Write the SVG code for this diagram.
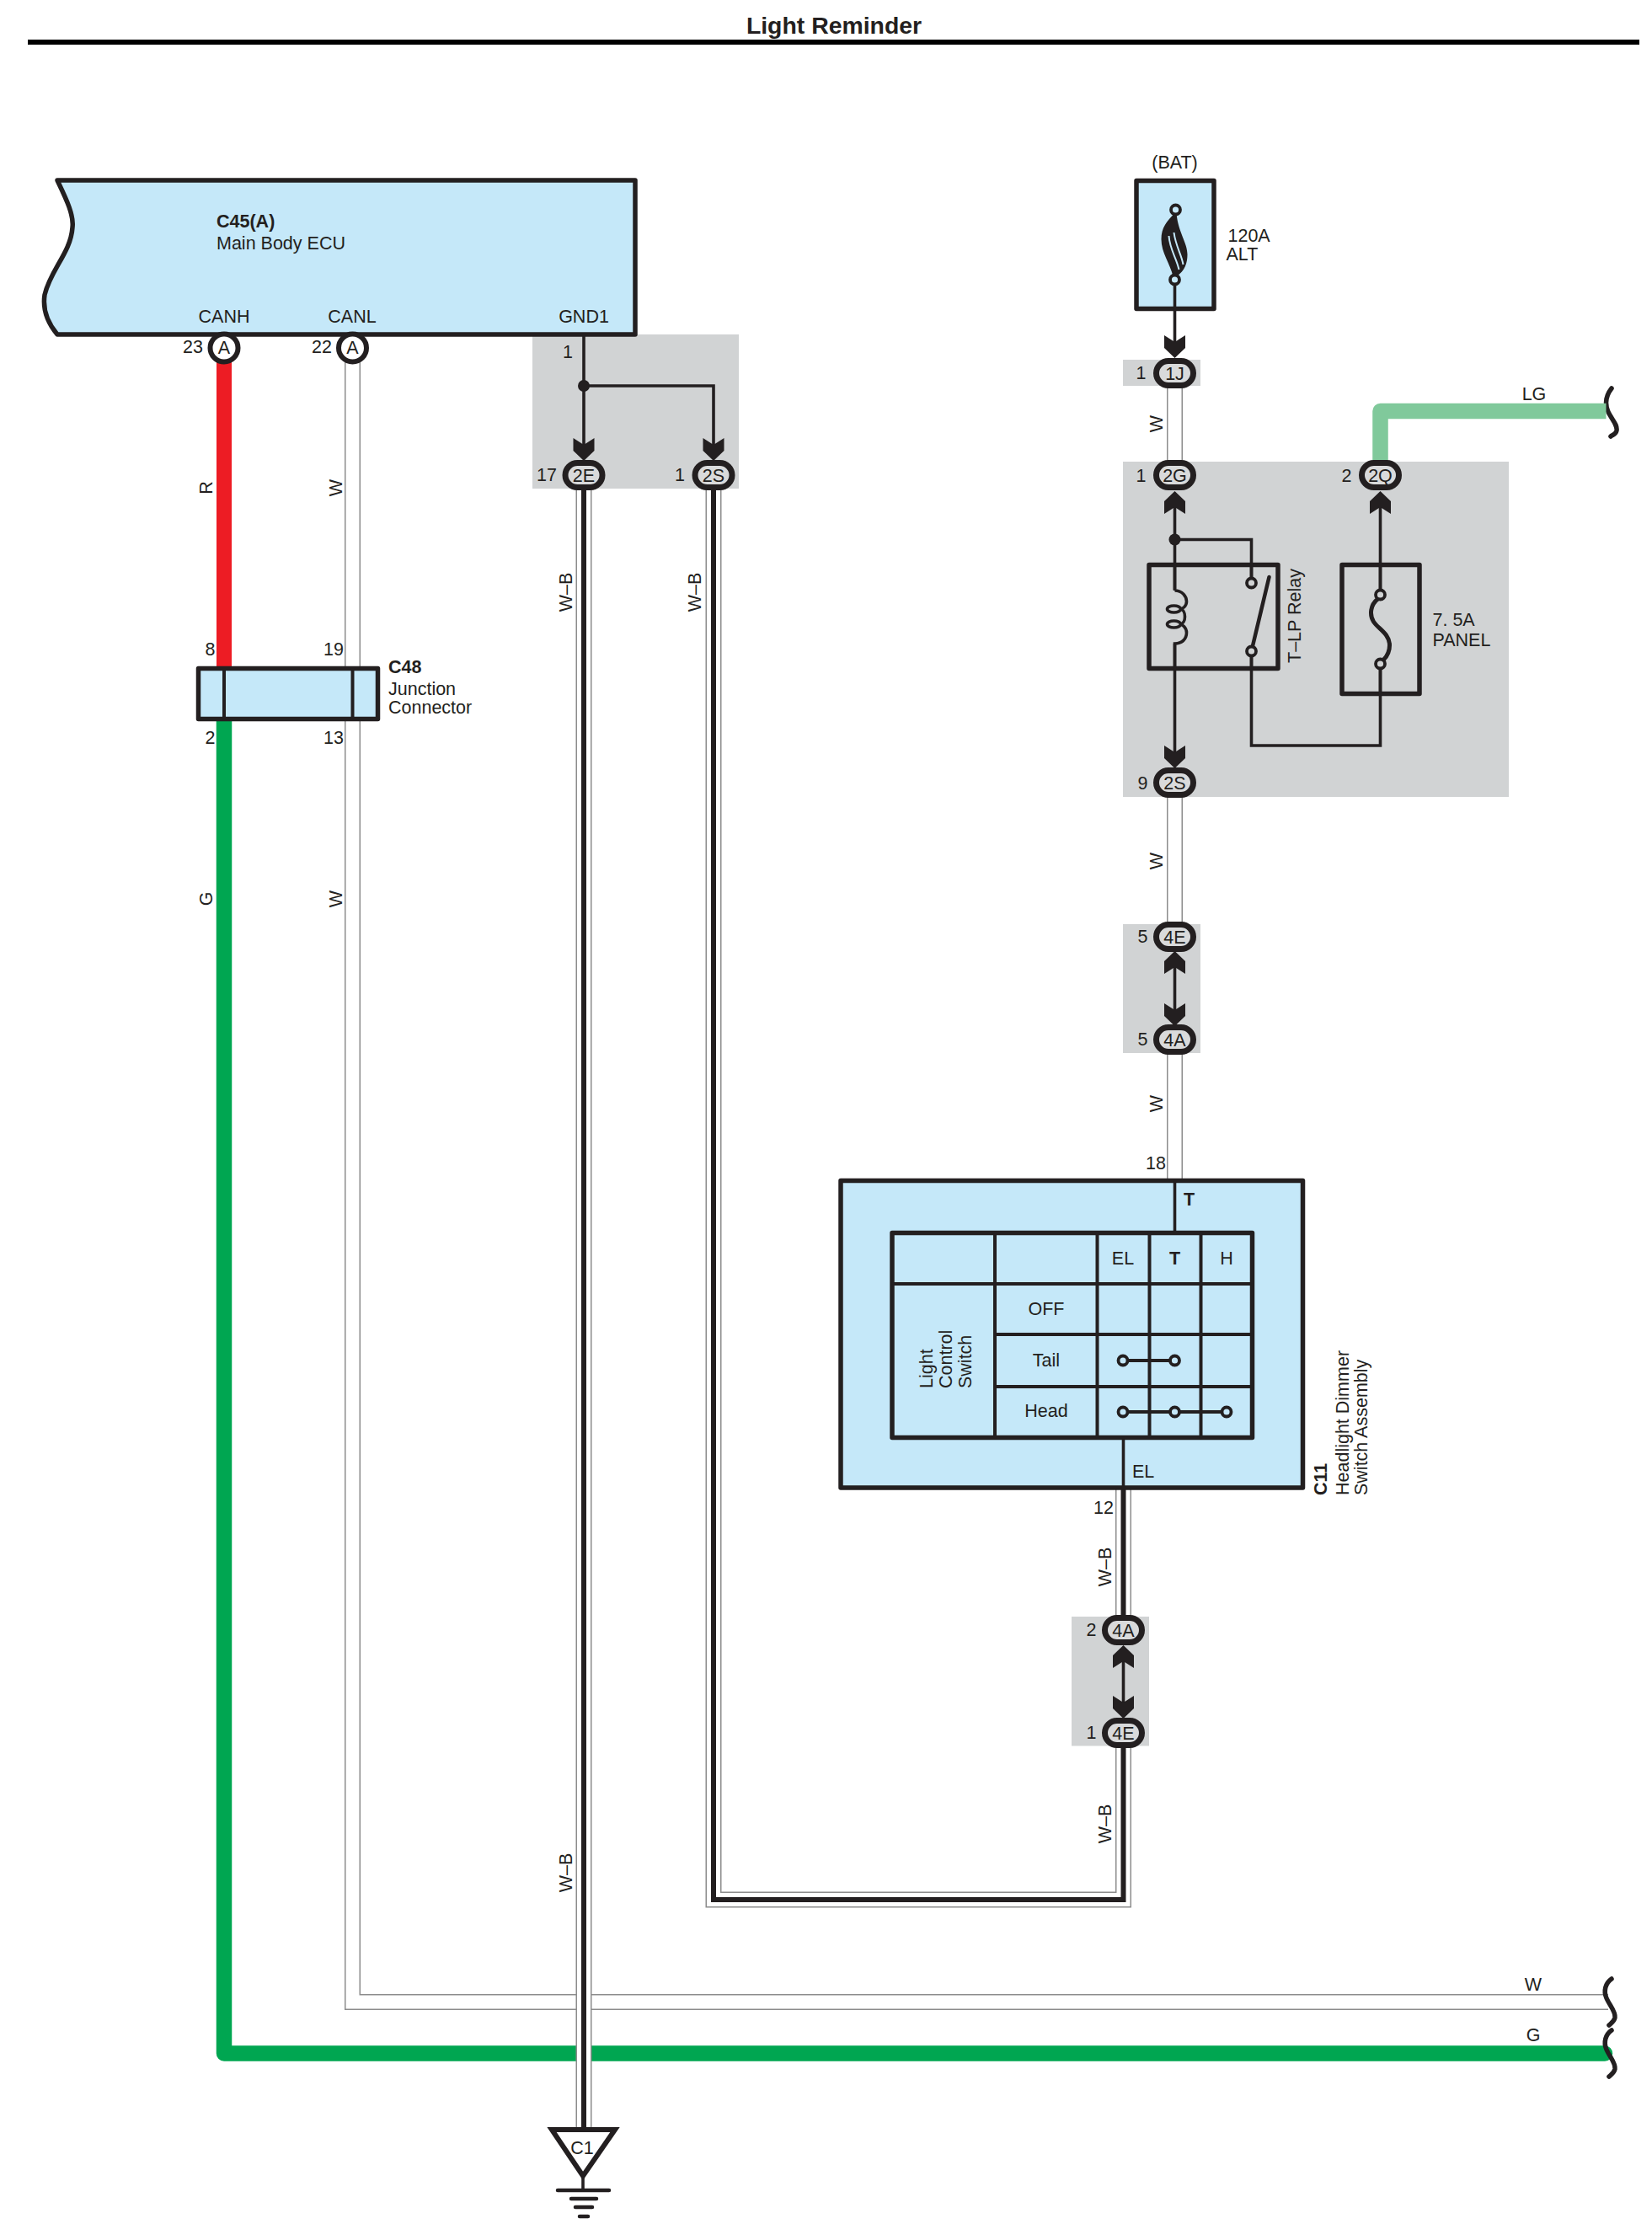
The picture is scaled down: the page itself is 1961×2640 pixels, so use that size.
<svg xmlns="http://www.w3.org/2000/svg" width="1961" height="2640" viewBox="0 0 1961 2640">
<style>
text{font-family:"Liberation Sans",Arial,sans-serif;font-size:21.5px;fill:#231f20}
.b{font-weight:700}
.m{text-anchor:middle}
.e{text-anchor:end}
.zone{fill:#d1d3d4}
.blue{fill:#c5e8f9;stroke:#231f20;stroke-width:5.5;stroke-linejoin:round}
.plain{fill:none;stroke:#231f20;stroke-width:5.5;stroke-linejoin:round}
.div{fill:none;stroke:#231f20;stroke-width:4}
.thin{fill:none;stroke:#231f20;stroke-width:3.6}
.ov{fill:#d9dadb;stroke:#231f20;stroke-width:7}
.pin{fill:#fff;stroke:#231f20;stroke-width:6}
.dot{fill:#231f20}
.term{fill:#c5e8f9;stroke:#231f20;stroke-width:3.8}
.term2{fill:#d1d3d4;stroke:#231f20;stroke-width:3.8}
.w1{fill:none;stroke:#8c8c8c;stroke-width:19}
.w2{fill:none;stroke:#fff;stroke-width:16}
.w3{fill:none;stroke:#231f20;stroke-width:6}
.red{fill:none;stroke:#ed1c24;stroke-width:18}
.grn{fill:none;stroke:#00a651;stroke-width:18.5;stroke-linejoin:round;stroke-linecap:round}
.lg{fill:none;stroke:#80c99b;stroke-width:18.5;stroke-linejoin:round}
.sq{fill:none;stroke:#231f20;stroke-width:5.5;stroke-linecap:round}
</style>
<defs>
<polygon id="ad" class="dot" points="-12.5,-27 0,-19 12.5,-27 12.5,-12 0,0 -12.5,-12"/>
<rect id="oval" class="ov" x="-22" y="-14.5" width="44" height="29" rx="14.5"/>
</defs>

<g id="title">
<text class="b m" x="990" y="40" style="font-size:28.4px">Light Reminder</text>
<rect x="33" y="47" width="1913" height="6" fill="#000"/>
</g>

<g id="zones">
<rect class="zone" x="632" y="397" width="245" height="183"/>
<rect class="zone" x="1333" y="427" width="92" height="31"/>
<rect class="zone" x="1333" y="548" width="458" height="398"/>
<rect class="zone" x="1333" y="1097" width="92" height="153"/>
<rect class="zone" x="1272" y="1919" width="92" height="153.5"/>
</g>

<g id="connectors">
<path class="red" d="M266,430V795"/>
<path class="w1" d="M418.5,430V2376.5H1909"/>
<path class="w2" d="M418.5,430V2376.5H1909"/>
<path class="grn" d="M266,852V2437.5H1905"/>
<path class="w1" d="M693,580V2530"/>
<path class="w2" d="M693,580V2530"/>
<path class="w3" d="M693,580V2530"/>
<path class="w1" d="M847,580V2255H1333.5V2070"/>
<path class="w2" d="M847,580V2255H1333.5V2070"/>
<path class="w3" d="M847,580V2255H1333.5V2070"/>
<path class="thin" d="M693,397V540M693,458H847V540"/>
<circle class="dot" cx="693" cy="458" r="7"/>
<use href="#ad" x="693" y="547"/>
<use href="#ad" x="847" y="547"/>
<path class="sq" d="M1913,461C1906,470 1905,480 1909,489C1914,499 1920,504 1919,511C1918,516 1914,516 1912,518"/>
<path class="sq" d="M1913,2349C1906,2354 1903,2363 1907,2372C1911,2381 1918,2388 1917,2395C1916,2400 1912,2402 1910,2404"/>
<path class="sq" d="M1913,2410C1906,2415 1903,2424 1907,2433C1911,2442 1918,2449 1917,2456C1916,2461 1912,2463 1910,2465"/>
<g id="connectors-right" transform="translate(1.5,0)">
<path class="w1" d="M1332,1768V1925"/>
<path class="w2" d="M1332,1768V1925"/>
<path class="w3" d="M1332,1768V1925"/>
<path class="w1" d="M1393,456V550"/>
<path class="w2" d="M1393,456V550"/>
<path class="w1" d="M1393,944V1100"/>
<path class="w2" d="M1393,944V1100"/>
<path class="w1" d="M1393,1248V1402"/>
<path class="w2" d="M1393,1248V1402"/>
<path class="lg" d="M1637,548V488H1905"/>
<path class="thin" d="M1393,369V410"/>
<use href="#ad" x="1393" y="425"/>
<path class="thin" d="M1393,600V700M1393,640.5H1484V688M1393,764V900"/>
<circle class="dot" cx="1393" cy="640.5" r="7"/>
<g transform="translate(1393,583) rotate(180)"><use href="#ad"/></g>
<g transform="translate(1637,583) rotate(180)"><use href="#ad"/></g>
<path class="thin" d="M1637,600V701M1484,778V885H1637V793"/>
<use href="#ad" x="1393" y="912"/>
<path class="thin" d="M1393,1140V1200"/>
<g transform="translate(1393,1129) rotate(180)"><use href="#ad"/></g>
<use href="#ad" x="1393" y="1218"/>
<path class="thin" d="M1332,1970V2030"/>
<g transform="translate(1332,1953) rotate(180)"><use href="#ad"/></g>
<use href="#ad" x="1332" y="2040"/>
</g>
</g>

<g id="wire-labels">
<text transform="translate(252,579) rotate(-90)" class="m">R</text>
<text transform="translate(405.5,579) rotate(-90)" class="m">W</text>
<text transform="translate(252,1067) rotate(-90)" class="m">G</text>
<text transform="translate(405.5,1067) rotate(-90)" class="m">W</text>
<text transform="translate(679,703) rotate(-90)" class="m">W–B</text>
<text transform="translate(832,703) rotate(-90)" class="m">W–B</text>
<text transform="translate(679,2223) rotate(-90)" class="m">W–B</text>
<text transform="translate(1318.5,1860) rotate(-90)" class="m">W–B</text>
<text transform="translate(1318.5,2165) rotate(-90)" class="m">W–B</text>
<text transform="translate(1380,503) rotate(-90)" class="m">W</text>
<text transform="translate(1380,1022) rotate(-90)" class="m">W</text>
<text transform="translate(1380,1310) rotate(-90)" class="m">W</text>
<text class="m" x="1821" y="475">LG</text>
<text class="m" x="1820" y="2363">W</text>
<text class="m" x="1820" y="2423">G</text>
</g>

<g id="node-c45">
<path class="blue" d="M68,214C78,235 88,255 86,270C84,300 60,320 53,350C50,370 58,385 68,397H754V214Z"/>
<text class="b" x="257" y="270">C45(A)</text>
<text x="257" y="296">Main Body ECU</text>
<text class="m" x="266" y="383">CANH</text>
<text class="m" x="418" y="383">CANL</text>
<text class="m" x="693" y="383">GND1</text>
<circle class="pin" cx="266" cy="413" r="16.5"/>
<text class="m" x="266" y="420">A</text>
<circle class="pin" cx="418.5" cy="413" r="16.5"/>
<text class="m" x="418.5" y="420">A</text>
<text class="e" x="241" y="419">23</text>
<text class="e" x="394" y="419">22</text>
<text class="e" x="680" y="425">1</text>
</g>

<g id="node-c48">
<rect class="blue" x="235.5" y="793.5" width="213" height="60"/>
<path class="div" d="M266,793V854M418.5,793V854"/>
<text class="e" x="255.5" y="778">8</text>
<text class="e" x="408" y="778">19</text>
<text class="e" x="255.5" y="883">2</text>
<text class="e" x="408" y="883">13</text>
<text class="b" x="461" y="799">C48</text>
<text x="461" y="825">Junction</text>
<text x="461" y="847">Connector</text>
</g>

<g id="node-2e">
<use href="#oval" x="693" y="564"/>
<text class="m" x="693" y="572">2E</text>
<text class="e" x="661" y="571">17</text>
</g>
<g id="node-2s-a">
<use href="#oval" x="847" y="564"/>
<text class="m" x="847" y="572">2S</text>
<text class="e" x="813" y="571">1</text>
</g>

<g id="node-fuse-alt" transform="translate(1.5,0)">
<text class="m" x="1393" y="200">(BAT)</text>
<rect class="blue" x="1347.5" y="214.5" width="92" height="152"/>
<path d="M1393,253C1384,262 1377,270 1377,284C1377,300 1387,312 1391,328H1395C1405,322 1408,312 1408,302C1408,288 1397,276 1395,253Z" fill="#231f20"/>
<path d="M1386,280C1387,296 1395,306 1398,320M1392,276C1394,292 1401,302 1403,314" fill="none" stroke="#c5e8f9" stroke-width="2"/>
<path class="thin" d="M1393,332V369"/>
<circle class="term" cx="1394" cy="249" r="5.5"/>
<circle class="term" cx="1393" cy="332" r="5.5"/>
<text x="1456" y="287">120A</text>
<text x="1454" y="309">ALT</text>
</g>

<g id="node-1j" transform="translate(1.5,0)">
<use href="#oval" x="1393" y="443"/>
<text class="m" x="1393" y="451">1J</text>
<text class="e" x="1359" y="450">1</text>
</g>
<g id="node-2g" transform="translate(1.5,0)">
<use href="#oval" x="1393" y="564"/>
<text class="m" x="1393" y="572">2G</text>
<text class="e" x="1359" y="572">1</text>
</g>
<g id="node-2q" transform="translate(1.5,0)">
<use href="#oval" x="1637" y="564"/>
<text class="m" x="1637" y="572">2Q</text>
<text class="e" x="1603" y="572">2</text>
</g>

<g id="node-relay" transform="translate(1.5,0)">
<rect class="plain" x="1362.5" y="670.5" width="153" height="123"/>
<path class="thin" d="M1393,668V701M1393,701C1402,701 1407,708 1407,714C1407,720 1402,723 1399,723C1407,723 1407,741 1399,741C1402,741 1407,745 1407,751C1407,758 1402,764 1393,764V796M1484,668V687M1484,778V796"/>
<ellipse class="thin" cx="1392" cy="723" rx="8" ry="4"/>
<ellipse class="thin" cx="1392" cy="741" rx="8" ry="4"/>
<path d="M1484,773L1505,685" fill="none" stroke="#231f20" stroke-width="4.5" stroke-linecap="round"/>
<circle class="term2" cx="1484" cy="692" r="5.5"/>
<circle class="term2" cx="1484" cy="773" r="5.5"/>
<text transform="translate(1542,787) rotate(-90)">T–LP Relay</text>
</g>

<g id="node-fuse-panel" transform="translate(1.5,0)">
<rect class="plain" x="1591.5" y="670.5" width="92" height="153"/>
<path class="thin" d="M1637,668V701M1637,793V826"/>
<path d="M1634,711C1625,718 1624,730 1629,738C1634,746 1648,752 1648,766C1648,774 1645,779 1641,783" fill="none" stroke="#231f20" stroke-width="5"/>
<circle class="term2" cx="1637" cy="706" r="5.5"/>
<circle class="term2" cx="1637" cy="788" r="5.5"/>
<text x="1699" y="743">7. 5A</text>
<text x="1699" y="767">PANEL</text>
</g>

<g id="node-2s-b" transform="translate(1.5,0)">
<use href="#oval" x="1393" y="929"/>
<text class="m" x="1393" y="937">2S</text>
<text class="e" x="1361" y="937">9</text>
</g>
<g id="node-4e-a" transform="translate(1.5,0)">
<use href="#oval" x="1393" y="1112"/>
<text class="m" x="1393" y="1120">4E</text>
<text class="e" x="1361" y="1119">5</text>
</g>
<g id="node-4a-a" transform="translate(1.5,0)">
<use href="#oval" x="1393" y="1234"/>
<text class="m" x="1393" y="1242">4A</text>
<text class="e" x="1361" y="1241">5</text>
</g>

<g id="node-c11" transform="translate(1,0)">
<rect class="blue" x="997" y="1401.5" width="548.5" height="364.5"/>
<path class="thin" d="M1393.5,1402V1462M1332.5,1707V1768"/>
<rect class="plain" x="1058" y="1463.5" width="427.5" height="243"/>
<path class="div" d="M1180,1463V1707M1301.5,1463V1707M1363.5,1463V1707M1424.5,1463V1707M1058,1524H1485M1180,1584H1485M1180,1646H1485"/>
<text class="m" x="1332" y="1501">EL</text>
<text class="m b" x="1393.5" y="1501">T</text>
<text class="m" x="1455" y="1501">H</text>
<text class="m" x="1241" y="1561">OFF</text>
<text class="m" x="1241" y="1622">Tail</text>
<text class="m" x="1241" y="1682">Head</text>
<text transform="translate(1106,1648) rotate(-90)">Light</text>
<text transform="translate(1129,1648) rotate(-90)">Control</text>
<text transform="translate(1152,1648) rotate(-90)">Switch</text>
<path class="div" d="M1332,1615H1393.5M1332,1676H1455"/>
<circle class="term" cx="1332" cy="1615" r="5.5"/>
<circle class="term" cx="1393.5" cy="1615" r="5.5"/>
<circle class="term" cx="1332" cy="1676" r="5.5"/>
<circle class="term" cx="1393.5" cy="1676" r="5.5"/>
<circle class="term" cx="1455" cy="1676" r="5.5"/>
<text class="b" x="1404" y="1431">T</text>
<text x="1343" y="1754">EL</text>
<text class="e" x="1383" y="1388">18</text>
<text class="e" x="1321" y="1797">12</text>
<text class="b" transform="translate(1574,1775) rotate(-90)">C11</text>
<text transform="translate(1600,1775) rotate(-90)">Headlight Dimmer</text>
<text transform="translate(1622,1775) rotate(-90)">Switch Assembly</text>
</g>

<g id="node-4a-b" transform="translate(1.5,0)">
<use href="#oval" x="1332" y="1935"/>
<text class="m" x="1332" y="1943">4A</text>
<text class="e" x="1300" y="1942">2</text>
</g>
<g id="node-4e-b" transform="translate(1.5,0)">
<use href="#oval" x="1332" y="2057"/>
<text class="m" x="1332" y="2065">4E</text>
<text class="e" x="1300" y="2064">1</text>
</g>

<g id="node-c1">
<polygon points="655,2528 730,2528 692,2583" fill="#fff" stroke="#231f20" stroke-width="6" stroke-linejoin="miter"/>
<text class="m" x="691" y="2557">C1</text>
<path class="thin" d="M692,2583V2600"/>
<path d="M662,2600H723M678,2610H708M683,2620H703M688,2631H698" fill="none" stroke="#231f20" stroke-width="4.5" stroke-linecap="round"/>
</g>
</svg>
